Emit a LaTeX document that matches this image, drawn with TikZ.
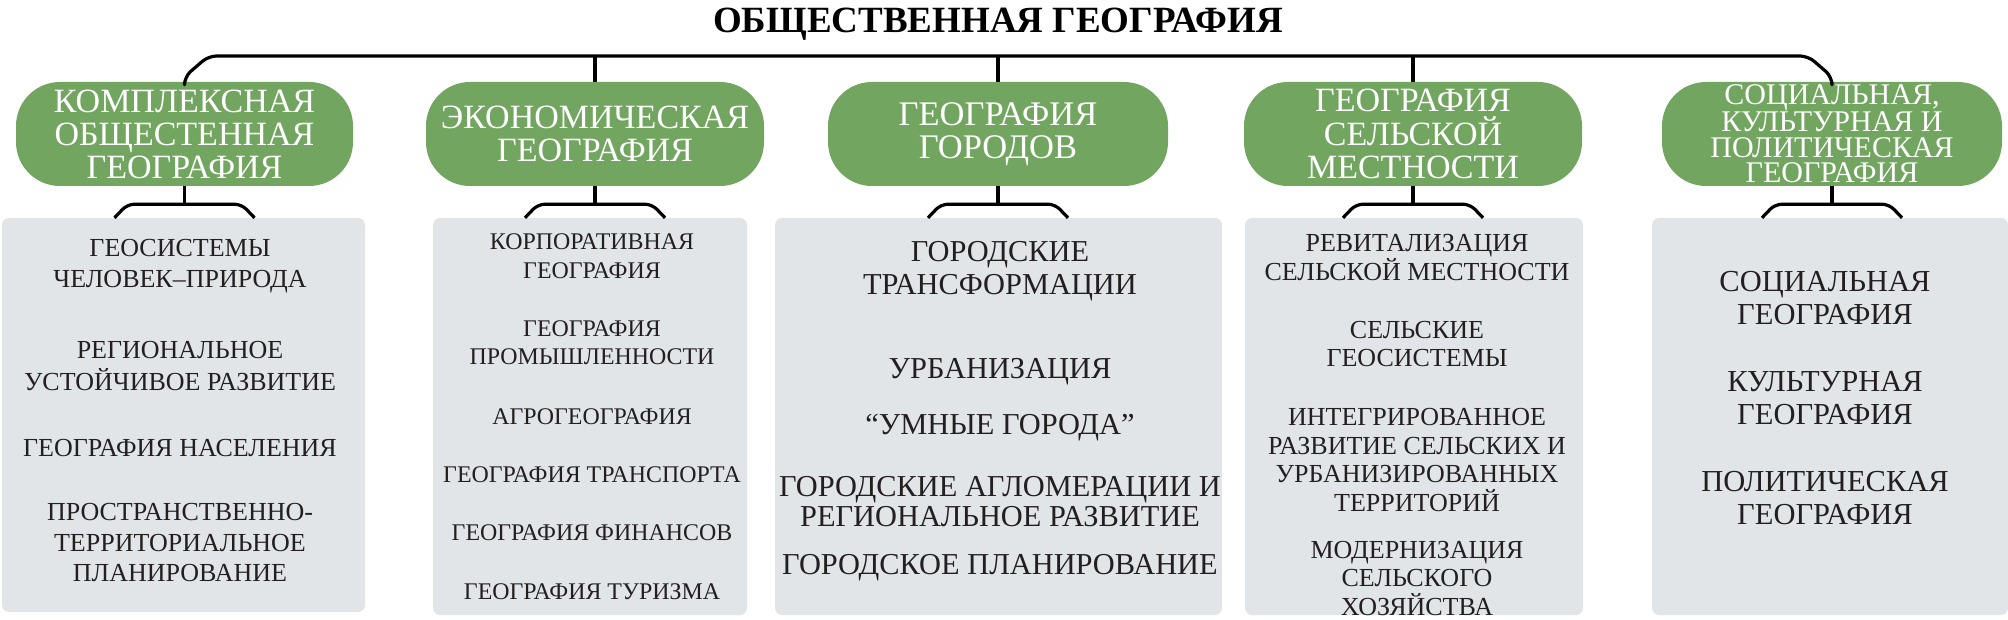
\documentclass[tikz,border=0pt]{standalone}
\usepackage{fontspec}
\setmainfont{Liberation Serif}
\usetikzlibrary{calc}
\definecolor{pillgreen}{RGB}{114,166,96}
\definecolor{boxgray}{RGB}{226,229,232}
\definecolor{txt}{RGB}{35,31,32}
\tikzset{
  pill/.style={fill=pillgreen, rounded corners=44pt, minimum height=104pt, inner sep=0pt, text=white, align=center},
  panel/.style={fill=boxgray, rounded corners=7pt, inner sep=0pt, draw=none},
  item/.style={text=txt, align=center, inner sep=0pt},
  link/.style={line width=3.2pt, line join=round, black},
  fA/.style={font=\fontsize{26}{31.5}\selectfont},
  fB/.style={font=\fontsize{23.9}{28.5}\selectfont},
  fC/.style={font=\fontsize{30.4}{33}\selectfont},
  fD/.style={font=\fontsize{26}{28.6}\selectfont},
  fE/.style={font=\fontsize{30.5}{33}\selectfont},
}
\begin{document}
\begin{tikzpicture}[x=1pt,y=-1pt]
\useasboundingbox (0,0) rectangle (2008,620);
% panels
\node[panel, minimum width=363pt, minimum height=394pt] (b1) at (183.5,415) {};
\node[panel, minimum width=314pt, minimum height=397pt] (b2) at (590,416.5) {};
\node[panel, minimum width=447pt, minimum height=397pt] (b3) at (998.5,416.5) {};
\node[panel, minimum width=338pt, minimum height=397pt] (b4) at (1414,416.5) {};
\node[panel, minimum width=356pt, minimum height=397pt] (b5) at (1830,416.5) {};
% box 1
\node[item, fA] (b1a) at (180,266) {ГЕОСИСТЕМЫ\\ЧЕЛОВЕК–ПРИРОДА};
\node[item, fA] (b1b) at (180,366) {РЕГИОНАЛЬНОЕ\\УСТОЙЧИВОЕ РАЗВИТИЕ};
\node[item, fA] (b1c) at (180,448) {ГЕОГРАФИЯ НАСЕЛЕНИЯ};
\node[item, font=\fontsize{26}{30.5}\selectfont] (b1d) at (180,543) {ПРОСТРАНСТВЕННО-\\ТЕРРИТОРИАЛЬНОЕ\\ПЛАНИРОВАНИЕ};
% box 2
\node[item, fB] (b2a) at (592,256) {КОРПОРАТИВНАЯ\\ГЕОГРАФИЯ};
\node[item, fB] (b2b) at (592,342.5) {ГЕОГРАФИЯ\\ПРОМЫШЛЕННОСТИ};
\node[item, fB] (b2c) at (592,417) {АГРОГЕОГРАФИЯ};
\node[item, fB] (b2d) at (592,475) {ГЕОГРАФИЯ ТРАНСПОРТА};
\node[item, fB] (b2e) at (592,533) {ГЕОГРАФИЯ ФИНАНСОВ};
\node[item, fB] (b2f) at (592,592) {ГЕОГРАФИЯ ТУРИЗМА};
% box 3
\node[item, fC] (b3a) at (1000,271.5) {ГОРОДСКИЕ\\ТРАНСФОРМАЦИИ};
\node[item, fC] (b3b) at (1000,372) {УРБАНИЗАЦИЯ};
\node[item, fC] (b3c) at (1000,428) {“УМНЫЕ ГОРОДА”};
\node[item, font=\fontsize{30.4}{30}\selectfont] (b3d) at (1000,502) {ГОРОДСКИЕ АГЛОМЕРАЦИИ И\\РЕГИОНАЛЬНОЕ РАЗВИТИЕ};
\node[item, fC] (b3e) at (1000,568) {ГОРОДСКОЕ ПЛАНИРОВАНИЕ};
% box 4
\node[item, fD] (b4a) at (1417,257.5) {РЕВИТАЛИЗАЦИЯ\\СЕЛЬСКОЙ МЕСТНОСТИ};
\node[item, fD] (b4b) at (1417,344) {СЕЛЬСКИЕ\\ГЕОСИСТЕМЫ};
\node[item, fD] (b4c) at (1417,460) {ИНТЕГРИРОВАННОЕ\\РАЗВИТИЕ СЕЛЬСКИХ И\\УРБАНИЗИРОВАННЫХ\\ТЕРРИТОРИЙ};
\node[item, fD] (b4d) at (1417,578.5) {МОДЕРНИЗАЦИЯ\\СЕЛЬСКОГО\\ХОЗЯЙСТВА};
% box 5
\node[item, fE] (b5a) at (1825,298.5) {СОЦИАЛЬНАЯ\\ГЕОГРАФИЯ};
\node[item, fE] (b5b) at (1825,398.5) {КУЛЬТУРНАЯ\\ГЕОГРАФИЯ};
\node[item, fE] (b5c) at (1825,498.5) {ПОЛИТИЧЕСКАЯ\\ГЕОГРАФИЯ};
% pills
\node[pill, minimum width=337pt, font=\fontsize{34}{33}\selectfont] (p1) at (184.5,134) {КОМПЛЕКСНАЯ\\ОБЩЕСТЕННАЯ\\ГЕОГРАФИЯ};
\node[pill, minimum width=338pt, font=\fontsize{34}{33}\selectfont] (p2) at (595,134) {ЭКОНОМИЧЕСКАЯ\\ГЕОГРАФИЯ};
\node[pill, minimum width=340pt, font=\fontsize{34.5}{33}\selectfont] (p3) at (998,134) {ГЕОГРАФИЯ\\ГОРОДОВ};
\node[pill, minimum width=338pt, font=\fontsize{34}{33.5}\selectfont] (p4) at (1413,134) {ГЕОГРАФИЯ\\СЕЛЬСКОЙ\\МЕСТНОСТИ};
\node[pill, minimum width=340pt, font=\fontsize{30}{25.5}\selectfont] (p5) at (1832,134) {СОЦИАЛЬНАЯ,\\КУЛЬТУРНАЯ И\\ПОЛИТИЧЕСКАЯ\\ГЕОГРАФИЯ};
% title
\node[anchor=base, inner sep=0pt, font=\bfseries\fontsize{37}{40}\selectfont] (title) at (998,33) {ОБЩЕСТВЕННАЯ ГЕОГРАФИЯ};
% connectors
\coordinate (tl) at (0,56);
\draw[link, rounded corners=8pt] (p1.north) -- ++(0,-5) -- ($(p1.north |- tl)+(24,0)$) -- ($(p5.north |- tl)+(-24,0)$) -- ($(p5.north)+(0,-5)$) -- (p5.north);
\draw[link] (p2.north) -- (p2.north |- tl);
\draw[link] (p3.north) -- (p3.north |- tl);
\draw[link] (p4.north) -- (p4.north |- tl);
\foreach \k in {1,...,5}{
  \draw[link] (p\k.south) -- ++(0,18) coordinate (m\k);
  \draw[link, rounded corners=7pt] ($(p\k.south |- b\k.north)+(-70,0)$) -- ($(m\k)+(-57,0)$) -- ($(m\k)+(57,0)$) -- ($(p\k.south |- b\k.north)+(70,0)$);
}
\end{tikzpicture}
\end{document}
